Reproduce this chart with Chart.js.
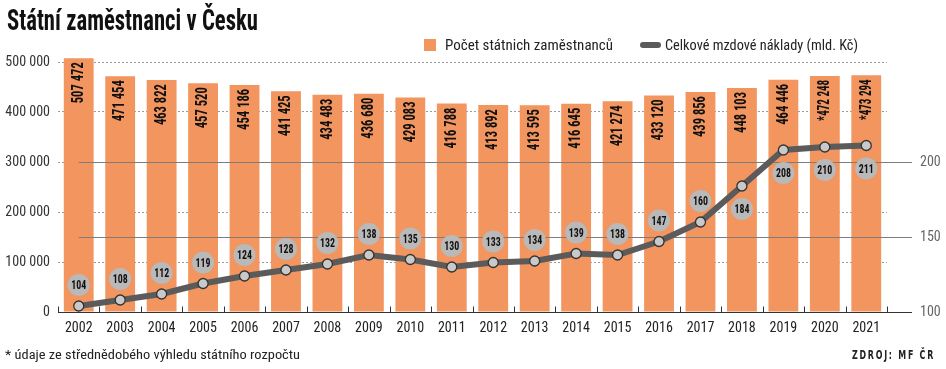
<!DOCTYPE html>
<html>
<head>
<meta charset="utf-8">
<script src="https://cdn.jsdelivr.net/npm/chart.js@4.4.1/dist/chart.umd.min.js"></script>
<style>
html, body { margin: 0; padding: 0; background: #fff; }
#wrap { position: relative; width: 946px; height: 369px; overflow: hidden; color: #222;
  font-family: "Roboto Condensed", "Liberation Sans Narrow", "DejaVu Sans Condensed", sans-serif; }
canvas { position: absolute; left: 0; top: 0; }
.fit { position: absolute; white-space: nowrap; transform-origin: 0 50%; }
#title { left: 7px; top: 3px; font-weight: bold; font-size: 30px; line-height: 34px; color: #111; }
.legtext { top: 36px; font-size: 15px; line-height: 18px; color: #222; }
#legBox { position: absolute; left: 424px; top: 39px; width: 12px; height: 12px; background: #F2955F; }
#legLine { position: absolute; left: 640px; top: 42px; width: 21px; height: 6px; border-radius: 3px; background: #5b5b5b; }
#note { left: 5px; top: 347px; font-size: 13px; line-height: 16px; color: #222; }
#source { left: 852px; top: 347px; font-family: "DejaVu Sans Condensed", sans-serif; font-weight: bold;
  font-size: 12.5px; line-height: 16px; letter-spacing: 2.5px; color: #222; }
</style>
</head>
<body>
<div id="wrap">
  <canvas id="chart" width="946" height="369"></canvas>
  <div id="title" class="fit" data-w="251">Státní zaměstnanci v Česku</div>
  <div id="legBox"></div>
  <div class="fit legtext" style="left:445px" data-w="168">Počet státnich zaměstnanců</div>
  <div id="legLine"></div>
  <div class="fit legtext" style="left:665px" data-w="193">Celkové mzdové náklady (mld. Kč)</div>
  <div id="note" class="fit" data-w="295">* údaje ze střednědobého výhledu státního rozpočtu</div>
  <div id="source" class="fit" data-w="83">ZDROJ: MF ČR</div>
</div>
<script>
// Data
const years = ["2002", "2003", "2004", "2005", "2006", "2007", "2008", "2009", "2010", "2011",
  "2012", "2013", "2014", "2015", "2016", "2017", "2018", "2019", "2020", "2021"];
const employees = [507472, 471454, 463822, 457520, 454186, 441425, 434483, 436680, 429083, 416788,
  413892, 413595, 416645, 421274, 433120, 439856, 448103, 464446, 472248, 473294];
const wageCosts = [104, 108, 112, 119, 124, 128, 132, 138, 135, 130,
  133, 134, 139, 138, 147, 160, 184, 208, 210, 211];
const starredYears = ["2020", "2021"]; // údaje ze střednědobého výhledu
const leftTicks = [0, 100000, 200000, 300000, 400000, 500000];
const rightTicks = [100, 150, 200];

const BAR_COLOR = "#F2955F";
const LINE_COLOR = "#5b5b5b";
const FONT = "'Roboto Condensed', 'Liberation Sans Narrow', 'DejaVu Sans Condensed', sans-serif";

// stretch html texts to their width in the original
document.querySelectorAll(".fit").forEach(function (el) {
  var w = el.getBoundingClientRect().width;
  el.style.transform = "scaleX(" + (Number(el.dataset.w) / w) + ")";
});

function formatThousands(v) {
  return String(v).replace(/\B(?=(\d{3})+(?!\d))/g, " ");
}

// factor to squeeze a text into the given width
function fitText(ctx, txt, width) {
  var w = ctx.measureText(txt).width;
  return w > width ? width / w : 1;
}

// solid lines of right axis, baseline and small ticks, drawn over bars but under the line
const decorations = {
  id: "decorations",
  afterDatasetDraw(chart, args) {
    if (args.meta.type !== "bar") {
      return;
    }
    var ctx = chart.ctx,
        area = chart.chartArea,
        x = chart.scales.x,
        y1 = chart.scales.y1,
        startX = x.getPixelForValue(0),
        baseY = Math.round(chart.scales.y.getPixelForValue(0)) + 0.5,
        step = (area.right - area.left) / years.length;

    ctx.save();
    ctx.lineWidth = 1;
    ctx.strokeStyle = "#7d7d7d";
    rightTicks.slice(1).forEach(function (v) {
      var py = Math.round(y1.getPixelForValue(v)) + 0.5;
      ctx.beginPath();
      ctx.moveTo(startX, py);
      ctx.lineTo(area.right + 25, py);
      ctx.stroke();
    });

    ctx.strokeStyle = "#333";
    ctx.beginPath();
    ctx.moveTo(area.left, baseY);
    ctx.lineTo(area.right + 25, baseY);
    for (let i = 0; i <= years.length; i++) {
      let tx = Math.round(area.left + i * step) + 0.5;
      ctx.moveTo(tx, baseY);
      ctx.lineTo(tx, baseY - 6);
    }
    ctx.stroke();
    ctx.restore();
  },
  afterDatasetsDraw(chart) {
    var ctx = chart.ctx;
    ctx.save();

    // vertical numbers inside the bars
    var barMeta = chart.getDatasetMeta(1);
    barMeta.data.forEach(function (el, i) {
      var txt = (starredYears.indexOf(years[i]) >= 0 ? "*" : "") + formatThousands(employees[i]);
      ctx.save();
      ctx.font = "bold 17px " + FONT;
      var k = fitText(ctx, txt, 41);
      ctx.translate(el.x, el.y + 4);
      ctx.rotate(-Math.PI / 2);
      ctx.scale(k, 1);
      ctx.fillStyle = "#111";
      ctx.textAlign = "right";
      ctx.textBaseline = "middle";
      ctx.fillText(txt, 0, 0);
      ctx.restore();
    });

    // grey bubbles with the wage costs
    var lineMeta = chart.getDatasetMeta(0);
    lineMeta.data.forEach(function (el, i) {
      var below = wageCosts[i] >= 180,
          cy = below ? el.y + 23 : el.y - 21;
      ctx.beginPath();
      ctx.arc(el.x, cy, 11, 0, Math.PI * 2);
      ctx.fillStyle = "#b9b9b9";
      ctx.fill();
      ctx.save();
      ctx.font = "bold 13px " + FONT;
      var k = fitText(ctx, String(wageCosts[i]), 15);
      ctx.translate(el.x, cy);
      ctx.scale(k, 1);
      ctx.fillStyle = "#111";
      ctx.textAlign = "center";
      ctx.textBaseline = "middle";
      ctx.fillText(String(wageCosts[i]), 0, 1);
      ctx.restore();
    });
    ctx.restore();
  }
};

new Chart(document.getElementById("chart"), {
  data: {
    labels: years,
    datasets: [
      {
        type: "line",
        label: "Celkové mzdové náklady (mld. Kč)",
        data: wageCosts,
        yAxisID: "y1",
        order: 0,
        borderColor: LINE_COLOR,
        borderWidth: 6,
        tension: 0,
        pointRadius: 5,
        pointBackgroundColor: "#c9c9c9",
        pointBorderColor: "#333",
        pointBorderWidth: 1.3
      },
      {
        type: "bar",
        label: "Počet státnich zaměstnanců",
        data: employees,
        yAxisID: "y",
        order: 1,
        backgroundColor: BAR_COLOR,
        categoryPercentage: 1,
        barPercentage: 0.72,
        clip: false
      }
    ]
  },
  options: {
    responsive: false,
    animation: false,
    devicePixelRatio: 1,
    layout: { padding: { top: 62, left: 0, right: 0, bottom: 0 } },
    plugins: {
      legend: { display: false },
      tooltip: { enabled: false }
    },
    scales: {
      x: {
        grid: { display: false, drawTicks: false },
        border: { display: false },
        ticks: { color: "#222", font: { family: FONT, size: 14 }, padding: 8, maxRotation: 0 },
        afterFit: function (s) { s.height = 57; }
      },
      y: {
        position: "left",
        min: 0,
        max: 500000,
        afterBuildTicks: function (s) { s.ticks = leftTicks.map(function (v) { return { value: v }; }); },
        grid: { color: "#9a9a9a", drawTicks: false, lineWidth: 1 },
        border: { display: false, dash: [2, 2] },
        ticks: { color: "#333", font: { family: FONT, size: 14 }, padding: 8,
          callback: function (v) { return formatThousands(v); } },
        afterFit: function (s) { s.width = 58; }
      },
      y1: {
        position: "right",
        min: 100,
        max: 266.667,
        afterBuildTicks: function (s) { s.ticks = rightTicks.map(function (v) { return { value: v }; }); },
        grid: { display: false, drawTicks: false },
        border: { display: false },
        ticks: { color: "#666", font: { family: FONT, size: 14 }, padding: 33 },
        afterFit: function (s) { s.width = 59; }
      }
    }
  },
  plugins: [decorations]
});
</script>
</body>
</html>
